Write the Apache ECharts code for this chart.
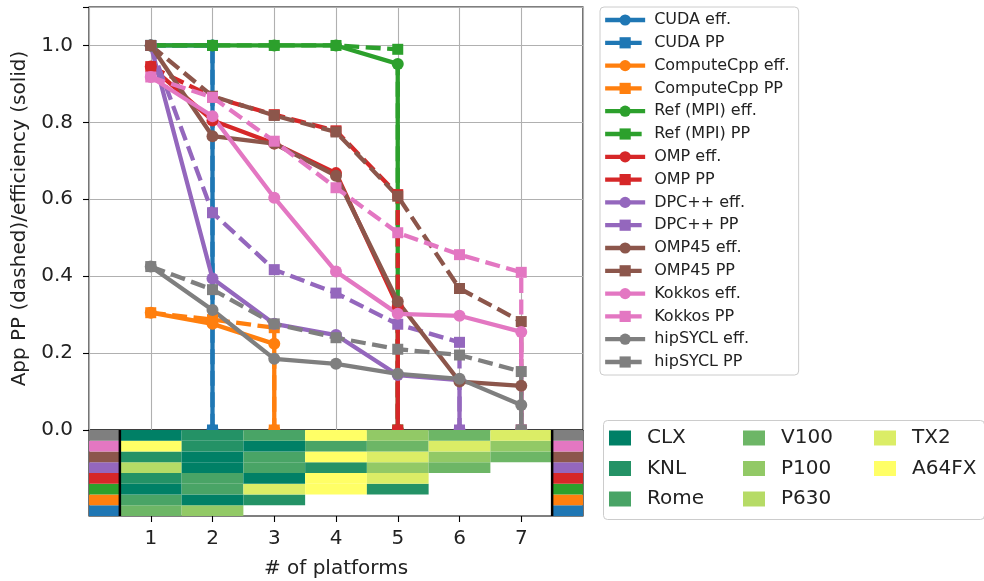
<!DOCTYPE html>
<html>
<head>
<meta charset="utf-8">
<script src="https://cdn.jsdelivr.net/npm/echarts@6/dist/echarts.min.js"></script>
<style>
  html, body { margin: 0; padding: 0; background: #fff; }
  #chart { width: 984px; height: 581px; }
</style>
</head>
<body>
<div id="chart"></div>
<script>
// ---- data ----------------------------------------------------------------
const apps = ['CUDA', 'ComputeCpp', 'Ref (MPI)', 'OMP', 'DPC++', 'OMP45', 'Kokkos', 'hipSYCL'];
const appColors = ['#1f77b4', '#ff7f0e', '#2ca02c', '#d62728', '#9467bd', '#8c564b', '#e377c2', '#7f7f7f'];

// efficiency (solid) and application PP (dashed) after adding 1..n platforms
const cudaEff       = [1.00, 1.00];
const cudaPP        = [1.00, 1.00];
const computeCppEff = [0.305, 0.276, 0.224];
const computeCppPP  = [0.305, 0.287, 0.266];
const refEff        = [1.00, 1.00, 1.00, 1.00, 0.952];
const refPP         = [1.00, 1.00, 1.00, 1.00, 0.990];
const ompEff        = [0.945, 0.805, 0.745, 0.668, 0.322];
const ompPP         = [0.945, 0.866, 0.820, 0.778, 0.612];
const dpcEff        = [1.00, 0.394, 0.276, 0.247, 0.143, 0.130];
const dpcPP         = [1.00, 0.565, 0.417, 0.356, 0.275, 0.228];
const omp45Eff      = [1.00, 0.764, 0.745, 0.661, 0.334, 0.126, 0.115];
const omp45PP       = [1.00, 0.868, 0.818, 0.775, 0.608, 0.368, 0.282];
const kokkosEff     = [0.918, 0.816, 0.604, 0.412, 0.302, 0.297, 0.255];
const kokkosPP      = [0.918, 0.865, 0.751, 0.630, 0.513, 0.456, 0.410];
const hipsyclEff    = [0.425, 0.312, 0.185, 0.172, 0.146, 0.133, 0.065];
const hipsyclPP     = [0.425, 0.365, 0.276, 0.240, 0.210, 0.195, 0.152];

// platform added at each step, per application
const platforms = ['CLX', 'KNL', 'Rome', 'V100', 'P100', 'P630', 'TX2', 'A64FX'];
const platformColors = ['#008066', '#249266', '#49a466', '#6db666', '#92c966', '#b6db66', '#dbed66', '#ffff66'];
const cudaOrder       = ['V100', 'P100'];
const computeCppOrder = ['Rome', 'CLX', 'KNL'];
const refOrder        = ['CLX', 'Rome', 'TX2', 'A64FX', 'KNL'];
const ompOrder        = ['KNL', 'Rome', 'CLX', 'A64FX', 'TX2'];
const dpcOrder        = ['P630', 'CLX', 'Rome', 'KNL', 'P100', 'V100'];
const omp45Order      = ['KNL', 'CLX', 'Rome', 'A64FX', 'TX2', 'P100', 'V100'];
const kokkosOrder     = ['A64FX', 'KNL', 'CLX', 'Rome', 'V100', 'TX2', 'P100'];
const hipsyclOrder    = ['CLX', 'KNL', 'Rome', 'A64FX', 'P100', 'V100', 'TX2'];

const xTicks = [1, 2, 3, 4, 5, 6, 7];

// ---- assembly ------------------------------------------------------------
const effLists   = [cudaEff, computeCppEff, refEff, ompEff, dpcEff, omp45Eff, kokkosEff, hipsyclEff];
const ppLists    = [cudaPP, computeCppPP, refPP, ompPP, dpcPP, omp45PP, kokkosPP, hipsyclPP];
const orderLists = [cudaOrder, computeCppOrder, refOrder, ompOrder, dpcOrder, omp45Order, kokkosOrder, hipsyclOrder];

const FONT = 'DejaVu Sans';
const series = [];
const lineLegend = [];

// each curve ends with a drop to zero at the last supported platform count
function toPoints(vals) {
  const pts = vals.map((v, k) => [k + 1, v]);
  pts.push([vals.length, 0]);
  return pts;
}

apps.forEach((app, i) => {
  const color = appColors[i];
  series.push({
    name: app + ' eff.', type: 'line', xAxisIndex: 0, yAxisIndex: 0,
    data: toPoints(effLists[i]), symbol: 'circle', symbolSize: 12,
    itemStyle: { color: color }, lineStyle: { color: color, width: 4.3 },
    emphasis: { disabled: true }, animation: false, z: 3
  });
  series.push({
    name: app + ' PP', type: 'line', xAxisIndex: 0, yAxisIndex: 0,
    data: toPoints(ppLists[i]), symbol: 'rect', symbolSize: 11,
    itemStyle: { color: color }, lineStyle: { color: color, width: 4.3, type: [15, 6.5] },
    emphasis: { disabled: true }, animation: false, z: 3
  });
  lineLegend.push(app + ' eff.', app + ' PP');
});

// platform cells: [column, row, platform index]
const cellData = [];
orderLists.forEach((order, row) => {
  order.forEach((p, k) => cellData.push([k + 1, row, platforms.indexOf(p)]));
});

// colour strips on both sides identify the application of each row
const stripData = [];
apps.forEach((app, row) => {
  stripData.push([0, 0.5, row, row]);
  stripData.push([7.5, 8, row, row]);
});

series.push({
  type: 'custom', xAxisIndex: 1, yAxisIndex: 1, z: 10, silent: true, animation: false,
  data: cellData,
  renderItem: function (params, api) {
    const c = api.value(0), r = api.value(1), pi = api.value(2);
    const a = api.coord([c - 0.5, r + 1]);
    const b = api.coord([c + 0.5, r]);
    return { type: 'rect', shape: { x: a[0], y: a[1], width: b[0] - a[0], height: b[1] - a[1] },
             style: { fill: platformColors[pi] } };
  }
});
series.push({
  type: 'custom', xAxisIndex: 1, yAxisIndex: 1, z: 10, silent: true, animation: false,
  data: stripData,
  renderItem: function (params, api) {
    const a = api.coord([api.value(0), api.value(2) + 1]);
    const b = api.coord([api.value(1), api.value(2)]);
    return { type: 'rect', shape: { x: a[0], y: a[1], width: b[0] - a[0], height: b[1] - a[1] },
             style: { fill: appColors[api.value(3)] } };
  }
});
series.push({
  type: 'custom', xAxisIndex: 1, yAxisIndex: 1, z: 11, silent: true, animation: false,
  data: [[0.5], [7.5]],
  renderItem: function (params, api) {
    const a = api.coord([api.value(0), 0]);
    const b = api.coord([api.value(0), 8]);
    return { type: 'line', shape: { x1: a[0], y1: a[1], x2: b[0], y2: b[1] },
             style: { stroke: '#000', lineWidth: 2.5 } };
  }
});

// empty series that only feed the platform legend
platforms.forEach((p, i) => {
  series.push({ name: p, type: 'scatter', xAxisIndex: 1, yAxisIndex: 1, data: [],
                itemStyle: { color: platformColors[i], opacity: 1 } });
});

const platLegend = (names, left) => ({
  data: names.map(n => ({ name: n, icon: 'rect', itemStyle: { color: platformColors[platforms.indexOf(n)], opacity: 1 } })),
  orient: 'vertical', left: left, top: 428, padding: 0,
  itemWidth: 22, itemHeight: 15, itemGap: 10.5, selectedMode: false,
  textStyle: { fontFamily: FONT, fontSize: 20, lineHeight: 20, color: '#222', padding: [0, 0, 0, 11] }
});

const option = {
  backgroundColor: '#fff',
  animation: false,
  grid: [
    { left: 89, top: 7, width: 494, height: 423, show: true, borderColor: '#000', borderWidth: 1.1, z: 0 },
    { left: 89, top: 430, width: 494, height: 86, show: true, borderColor: '#000', borderWidth: 1.1, z: 0 }
  ],
  xAxis: [
    { gridIndex: 0, type: 'value', min: 0, max: 8, interval: 1,
      axisLine: { show: false }, axisTick: { show: false }, axisLabel: { show: false },
      splitLine: { show: true, lineStyle: { color: '#b0b0b0', width: 1.1 } } },
    { gridIndex: 1, type: 'value', min: 0, max: 8, interval: 1,
      axisLine: { show: false }, splitLine: { show: false },
      axisTick: { show: true, length: 6, customValues: xTicks, lineStyle: { color: '#000', width: 1.1 } },
      axisLabel: { customValues: xTicks, fontFamily: FONT, fontSize: 20, color: '#222', margin: 13 },
      name: '# of platforms', nameLocation: 'middle', nameGap: 43,
      nameTextStyle: { fontFamily: FONT, fontSize: 20, color: '#222' } }
  ],
  yAxis: [
    { gridIndex: 0, type: 'value', min: 0, max: 1.1, interval: 0.2,
      axisLine: { show: false },
      axisTick: { show: true, length: 6, lineStyle: { color: '#000', width: 1.1 } },
      axisLabel: { fontFamily: FONT, fontSize: 20, color: '#222', margin: 16,
                   formatter: v => (v > 1.05 ? '' : v.toFixed(1)) },
      splitLine: { show: true, lineStyle: { color: '#b0b0b0', width: 1.1 } },
      name: 'App PP (dashed)/efficiency (solid)', nameLocation: 'middle', nameGap: 51,
      nameTextStyle: { fontFamily: FONT, fontSize: 20, color: '#222' } },
    { gridIndex: 1, type: 'value', min: 0, max: 8, show: false }
  ],
  legend: [
    { data: lineLegend, orient: 'vertical', left: 600, top: 7,
      padding: [5, 9, 5, 3], itemWidth: 40, itemHeight: 14, itemGap: 6.8,
      borderColor: '#cccccc', borderWidth: 1, borderRadius: 4, selectedMode: false,
      lineStyle: { width: 'inherit' },
      textStyle: { fontFamily: FONT, fontSize: 16, lineHeight: 16, color: '#222', padding: [0, 0, 0, 4] } },
    platLegend(['CLX', 'KNL', 'Rome'], 609),
    platLegend(['V100', 'P100', 'P630'], 743),
    platLegend(['TX2', 'A64FX'], 874)
  ],
  graphic: [
    { type: 'rect', left: 601, top: 418, shape: { width: 381, height: 99, r: 4 },
      style: { fill: 'none', stroke: '#cccccc', lineWidth: 1 }, silent: true }
  ],
  series: series
};

echarts.init(document.getElementById('chart')).setOption(option);
</script>
</body>
</html>
